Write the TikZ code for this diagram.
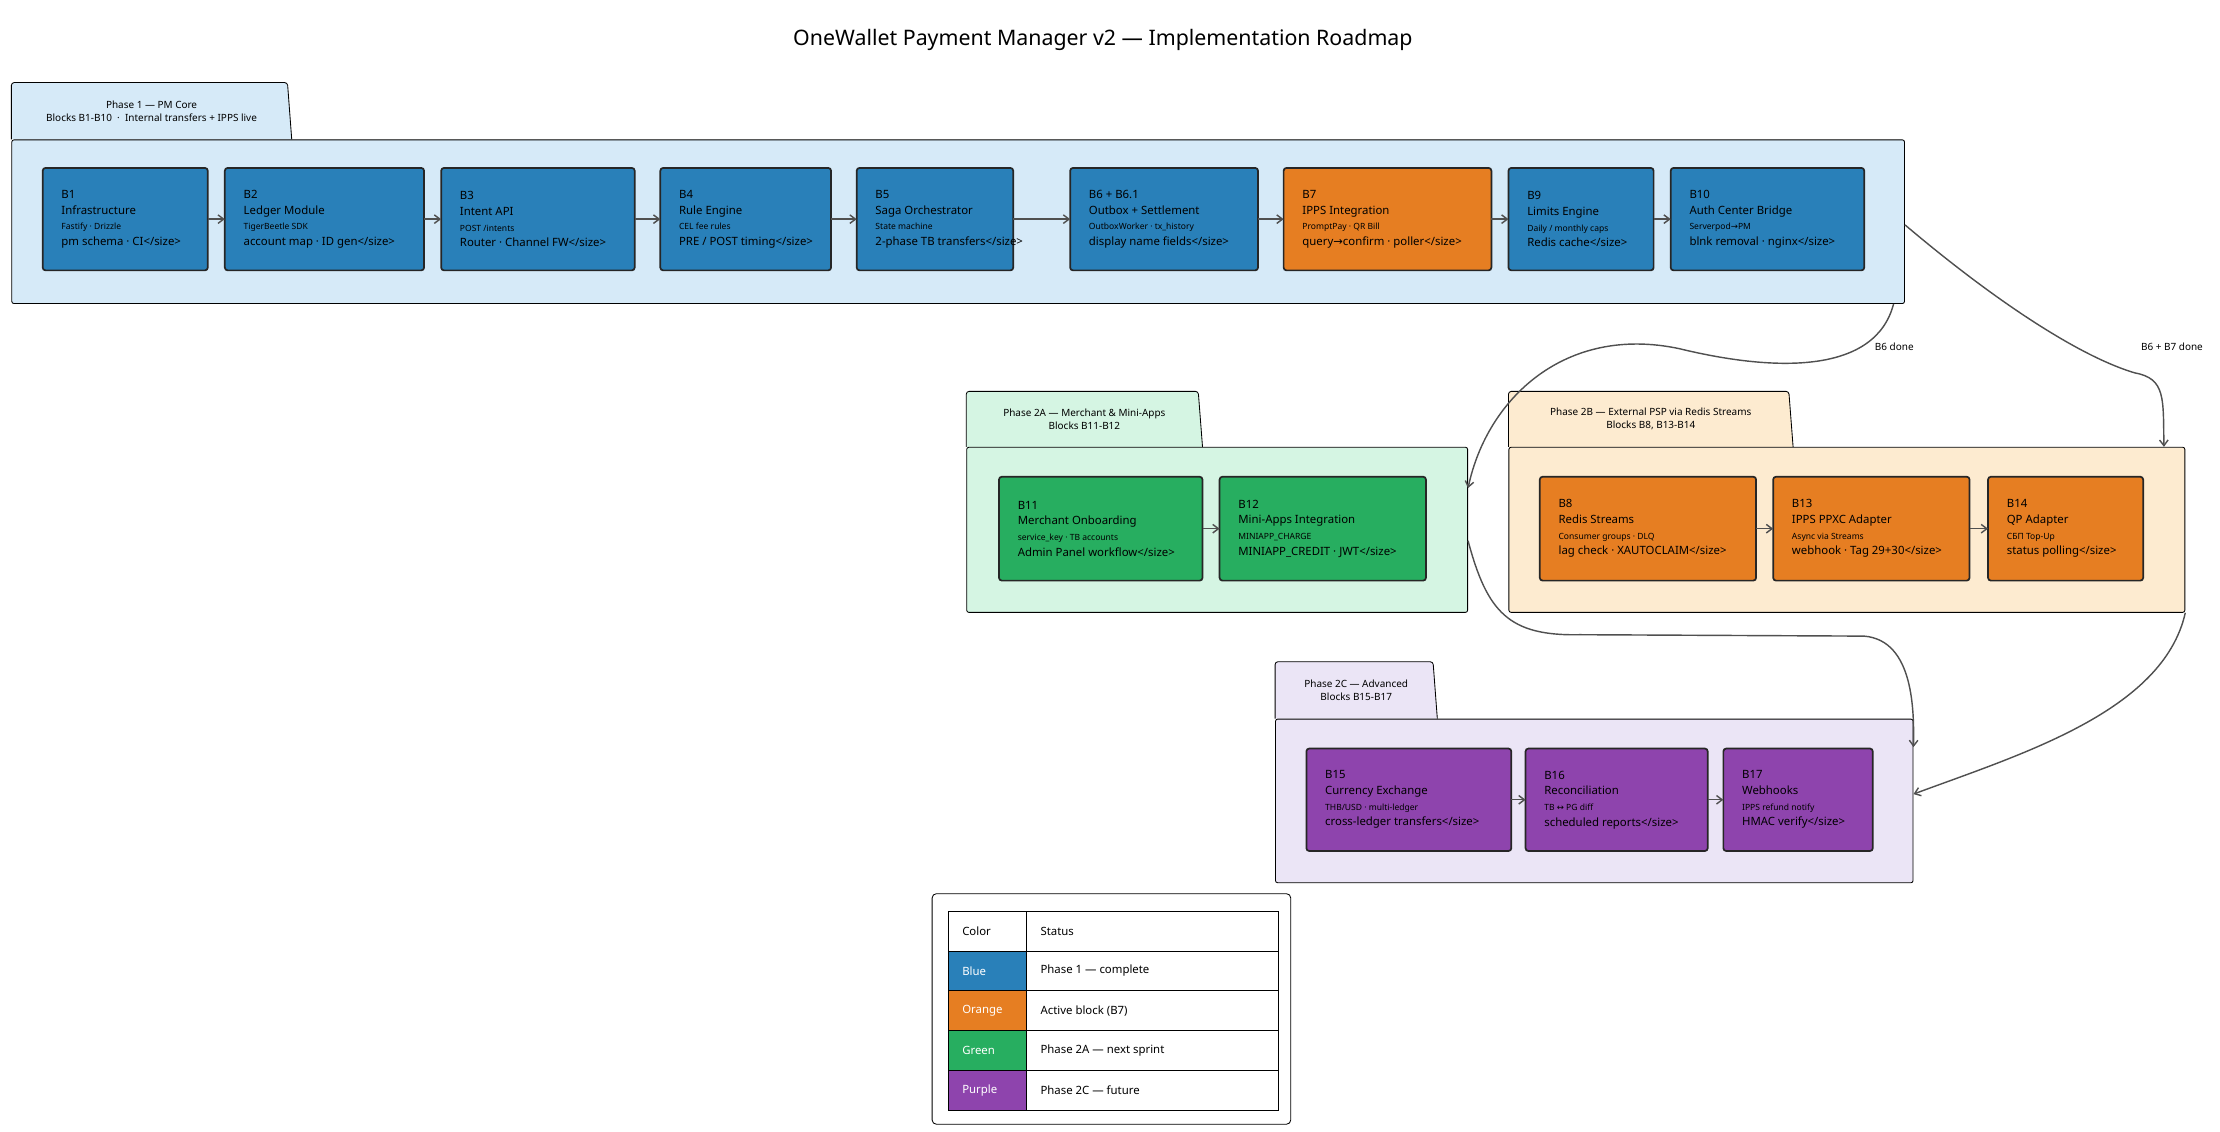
\documentclass[tikz,border=0pt]{standalone}
\usepackage{fontspec}
\setmainfont{Noto Sans}
\newfontfamily\symfont{DejaVu Sans}
\usetikzlibrary{positioning, calc, arrows.meta}
\definecolor{owBlue}{HTML}{2980B9}
\definecolor{owOrange}{HTML}{E67E22}
\definecolor{owGreen}{HTML}{27AE60}
\definecolor{owPurple}{HTML}{8E44AD}
\definecolor{owBlueBg}{HTML}{D6EAF8}
\definecolor{owGreenBg}{HTML}{D5F5E3}
\definecolor{owOrangeBg}{HTML}{FDEBD0}
\definecolor{owPurpleBg}{HTML}{EBE5F6}
\definecolor{owGray}{RGB}{80, 80, 80}
\newcommand\arr{{\symfont\char"2192}}
\newcommand\lrarr{{\symfont\char"2194}}
\newcommand\subline{\fontsize{6}{8}\selectfont}
\tikzset{
    block/.style={
        rectangle,
        rounded corners=2pt,
        draw=black!85,
        line width=1.2pt,
        inner sep=0pt,
        outer sep=0pt,
        anchor=north west
    },
    blocktext/.style={
        font=\fontsize{8}{11}\selectfont,
        align=left,
        anchor=west,
        inner sep=0pt
    },
    phase/.style={
        rectangle,
        rounded corners=1.5pt,
        draw=black,
        line width=0.6pt,
        inner sep=0pt,
        anchor=north west
    },
    flow/.style={
        -{Straight Barb[length=4pt,width=6pt]},
        line width=1pt,
        color=owGray
    },
    cell/.style={
        rectangle,
        draw=black,
        line width=0.6pt,
        anchor=north west,
        inner sep=0pt,
        minimum height=28pt
    },
    celltext/.style={
        anchor=west,
        inner sep=0pt,
        font=\fontsize{8}{10}\selectfont
    }
}
% block: name, x1, y1, x2, y2, colour, text
\newcommand\blockbox[7]{%
  \node[block, fill=#6, minimum width={#4-#2}, minimum height={#5-#3}] (#1) at (#2,#3) {};
  \node[blocktext] at ($(#1.west)+(13,0)$) {#7};}
% phase: name, x1, tab top, tab right, body top, x2, body bottom, colour, label
\newcommand\phasebox[9]{%
  \draw[fill=#8, line width=0.6pt, rounded corners=2pt] (#2,#5) -- (#2,#3) -- ({#4-3},#3) -- (#4,#5);
  \node[phase, fill=#8, minimum width={#6-#2}, minimum height={#7-#5}] (#1) at (#2,#5) {};
  \node[font=\fontsize{7}{9}\selectfont\bfseries, align=center] at ({(#2+#4)/2},{(#3+#5)/2}) {#9};}

\begin{document}
\begin{tikzpicture}[x=1pt, y=-1pt]
  \useasboundingbox (0,0) rectangle (1560,795);

  % Title
  \node[font=\fontsize{15}{18}\selectfont\bfseries] (title) at (775,28) {OneWallet Payment Manager v2 — Implementation Roadmap};

  % Phases
  \phasebox{p1}{8}{58}{205}{98}{1338}{213}{owBlueBg}{Phase 1 — PM Core\\Blocks B1-B10 \ · \ Internal transfers + IPPS live}
  \phasebox{p2a}{679}{275}{845}{314}{1031}{430}{owGreenBg}{Phase 2A — Merchant \& Mini-Apps\\Blocks B11-B12}
  \phasebox{p2b}{1060}{275}{1260}{314}{1535}{430}{owOrangeBg}{Phase 2B — External PSP via Redis Streams\\Blocks B8, B13-B14}
  \phasebox{p2c}{896}{465}{1010}{505}{1344}{620}{owPurpleBg}{Phase 2C — Advanced\\Blocks B15-B17}

  % Phase 1 blocks
  \blockbox{b1}{30}{118}{146}{190}{owBlue}{\textbf{B1}\\Infrastructure\\\subline Fastify · Drizzle\\pm schema · CI</size>}
  \blockbox{b2}{158}{118}{298}{190}{owBlue}{\textbf{B2}\\Ledger Module\\\subline TigerBeetle SDK\\account map · ID gen</size>}
  \blockbox{b3}{310}{118}{446}{190}{owBlue}{\textbf{B3}\\Intent API\\\subline POST /intents\\Router · Channel FW</size>}
  \blockbox{b4}{464}{118}{584}{190}{owBlue}{\textbf{B4}\\Rule Engine\\\subline CEL fee rules\\PRE / POST timing</size>}
  \blockbox{b5}{602}{118}{712}{190}{owBlue}{\textbf{B5}\\Saga Orchestrator\\\subline State machine\\2-phase TB transfers</size>}
  \blockbox{b6}{752}{118}{884}{190}{owBlue}{\textbf{B6 + B6.1}\\Outbox + Settlement\\\subline OutboxWorker · tx\_history\\display name fields</size>}
  \blockbox{b7}{902}{118}{1048}{190}{owOrange}{\textbf{B7}\\IPPS Integration\\\subline PromptPay · QR Bill\\query\arr confirm · poller</size>}
  \blockbox{b9}{1060}{118}{1162}{190}{owBlue}{\textbf{B9}\\Limits Engine\\\subline Daily / monthly caps\\Redis cache</size>}
  \blockbox{b10}{1174}{118}{1310}{190}{owBlue}{\textbf{B10}\\Auth Center Bridge\\\subline Serverpod\arr PM\\blnk removal · nginx</size>}

  % Phase 2A blocks
  \blockbox{b11}{702}{335}{845}{408}{owGreen}{\textbf{B11}\\Merchant Onboarding\\\subline service\_key · TB accounts\\Admin Panel workflow</size>}
  \blockbox{b12}{857}{335}{1002}{408}{owGreen}{\textbf{B12}\\Mini-Apps Integration\\\subline MINIAPP\_CHARGE\\MINIAPP\_CREDIT · JWT</size>}

  % Phase 2B blocks
  \blockbox{b8}{1082}{335}{1234}{408}{owOrange}{\textbf{B8}\\Redis Streams\\\subline Consumer groups · DLQ\\lag check · XAUTOCLAIM</size>}
  \blockbox{b13}{1246}{335}{1384}{408}{owOrange}{\textbf{B13}\\IPPS PPXC Adapter\\\subline Async via Streams\\webhook · Tag 29+30</size>}
  \blockbox{b14}{1397}{335}{1506}{408}{owOrange}{\textbf{B14}\\QP Adapter\\\subline СБП Top-Up\\status polling</size>}

  % Phase 2C blocks
  \blockbox{b15}{918}{526}{1062}{598}{owPurple}{\textbf{B15}\\Currency Exchange\\\subline THB/USD · multi-ledger\\cross-ledger transfers</size>}
  \blockbox{b16}{1072}{526}{1200}{598}{owPurple}{\textbf{B16}\\Reconciliation\\\subline TB \lrarr\ PG diff\\scheduled reports</size>}
  \blockbox{b17}{1211}{526}{1316}{598}{owPurple}{\textbf{B17}\\Webhooks\\\subline IPPS refund notify\\HMAC verify</size>}

  % Chains
  \foreach \a/\b in {b1/b2, b2/b3, b3/b4, b4/b5, b5/b6, b6/b7, b7/b9, b9/b10, b11/b12, b8/b13, b13/b14, b15/b16, b16/b17}
    \draw[flow] (\a.east) -- (\b.west);

  % Phase dependencies
  \coordinate (p1out) at ($(p1.south east)+(-8,0)$);
  \coordinate (p1side) at ($(p1.north east)+(0,60)$);
  \coordinate (p2ain) at ($(p2a.north east)+(0,29)$);
  \coordinate (p2bin) at ($(p2b.north east)+(-15,0)$);
  \coordinate (p2aout) at ($(p2a.north east)+(0,66)$);
  \coordinate (p2cin) at ($(p2c.north east)+(0,20)$);
  \coordinate (p2bout) at (p2b.south east);
  \coordinate (p2cside) at ($(p2c.north east)+(0,53)$);
  \draw[flow] (p1out) .. controls (1318,262) and (1250,262) .. (1180,245)
    .. controls (1100,228) and (1045,280) .. (p2ain);
  \draw[flow] (p1side) .. controls (1400,210) and (1460,250) .. (1500,262)
    .. controls (1522,266) and (1520,280) .. (p2bin);
  \draw[flow] (p2aout) .. controls (1045,430) and (1060,447) .. (1110,446)
    -- (1310,447) .. controls (1345,450) and (1345,500) .. (p2cin);
  \draw[flow] (p2bout) .. controls (1520,500) and (1420,530) .. (p2cside);
  \node[font=\fontsize{7}{9}\selectfont, anchor=west] (l1) at (1314,244) {B6 done};
  \node[font=\fontsize{7}{9}\selectfont, anchor=west] (l2) at (1501,244) {B6 + B7 done};

  % Legend
  \draw[rounded corners=3pt, line width=0.6pt] (655,628) rectangle (907,790);
  \node[cell, minimum width=55pt] (c0) at (666,640) {};
  \node[celltext, font=\fontsize{8}{10}\selectfont\bfseries] at ($(c0.west)+(10,0)$) {Color};
  \node[cell, minimum width=177pt] (s0) at (721,640) {};
  \node[celltext, font=\fontsize{8}{10}\selectfont\bfseries] at ($(s0.west)+(10,0)$) {Status};
  \foreach \i/\col/\nm/\txt in {1/owBlue/Blue/Phase 1 — complete / in progress,
                               2/owOrange/Orange/Active block (B7),
                               3/owGreen/Green/Phase 2A — next sprint,
                               4/owPurple/Purple/Phase 2C — future}{
    \node[cell, minimum width=55pt, fill=\col] (c\i) at (666,{640+28*\i}) {};
    \node[celltext, text=white, font=\fontsize{8}{10}\selectfont\bfseries] at ($(c\i.west)+(10,0)$) {\nm};
    \node[cell, minimum width=177pt] (s\i) at (721,{640+28*\i}) {};
    \node[celltext] at ($(s\i.west)+(10,0)$) {\txt};
  }
\end{tikzpicture}
\end{document}
